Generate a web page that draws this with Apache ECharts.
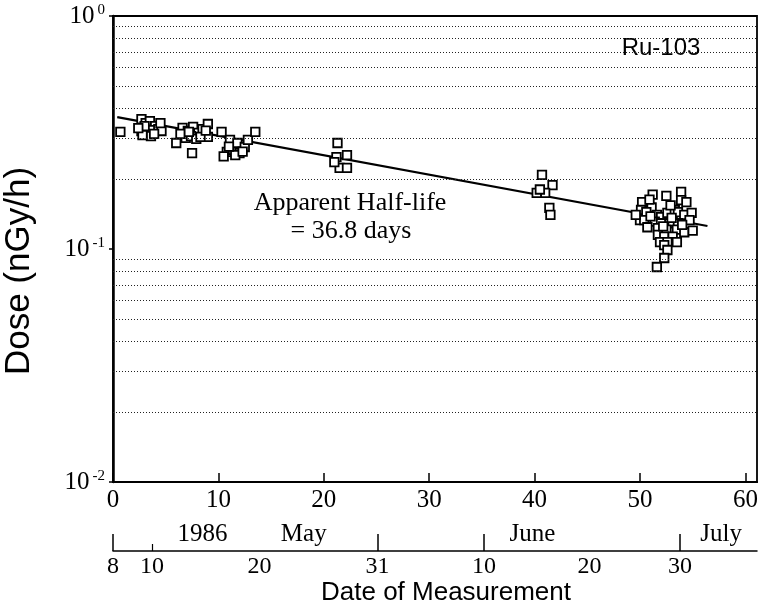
<!DOCTYPE html>
<html>
<head>
<meta charset="utf-8">
<script src="https://cdn.jsdelivr.net/npm/echarts@6/dist/echarts.min.js"></script>
<style>html,body{margin:0;padding:0;background:#fff}#c{width:762px;height:613px}</style>
</head>
<body>
<div id="c"></div>
<script>
// ---- data ----
const days = [
  0.7, 2.7, 3.1, 3.5, 4.0, 2.7, 3.2, 3.7, 4.3, 4.6, 3.0, 3.6, 4.5, 2.8, 3.9, 2.4,
  6.6, 7.1, 7.6, 8.1, 8.5, 9.0, 9.0, 6.9, 7.4, 7.9, 8.3, 6.0, 7.5, 6.4, 7.2, 8.8,
  10.3, 11.1, 10.8, 11.4, 11.8, 12.0, 12.5, 12.8, 13.5, 10.5, 11.6, 11.0, 12.3,
  21.3, 21.2, 22.2, 21.5, 22.2, 21.0,
  40.7, 41.7, 41.0, 40.2, 41.4, 41.5, 40.5,
  51.2, 52.5, 53.9, 50.2, 51.1, 53.9, 54.4, 50.1, 50.6, 51.6, 52.0, 52.6, 53.3, 53.6,
  54.2, 54.9, 54.7, 50.0, 50.4, 51.4, 52.0, 52.8, 53.1, 53.6, 50.7, 51.7, 52.5, 53.5,
  54.2, 51.7, 52.3, 53.1, 51.9, 52.6, 53.5, 52.3, 52.6, 52.3, 51.6, 49.6, 55.0,
  51.0, 52.2, 53.0, 54.0, 50.9, 52.9
];
const doses = [
  0.318, 0.361, 0.347, 0.354, 0.337, 0.321, 0.315, 0.324, 0.327, 0.321, 0.337, 0.305, 0.347, 0.308, 0.312, 0.330,
  0.331, 0.321, 0.334, 0.315, 0.327, 0.344, 0.303, 0.300, 0.305, 0.297, 0.303, 0.285, 0.258, 0.312, 0.318, 0.322,
  0.318, 0.294, 0.261, 0.266, 0.285, 0.258, 0.274, 0.294, 0.318, 0.250, 0.253, 0.275, 0.262,
  0.285, 0.248, 0.253, 0.223, 0.223, 0.236,
  0.208, 0.188, 0.174, 0.174, 0.150, 0.140, 0.180,
  0.171, 0.169, 0.176, 0.159, 0.151, 0.162, 0.159, 0.147, 0.144, 0.140, 0.137, 0.143, 0.147, 0.144,
  0.140, 0.143, 0.133, 0.133, 0.133, 0.131, 0.129, 0.129, 0.131, 0.129, 0.124, 0.123, 0.121, 0.121,
  0.118, 0.115, 0.113, 0.113, 0.107, 0.107, 0.107, 0.104, 0.099, 0.0915, 0.0837, 0.140, 0.120,
  0.138, 0.125, 0.136, 0.127, 0.163, 0.154
];
const fitDays = [0.4, 56.4];
const fitDoses = [0.368, 0.1255];
const gridDoses = [0.02, 0.03, 0.04, 0.05, 0.06, 0.07, 0.08, 0.09, 0.2, 0.3, 0.4, 0.5, 0.6, 0.7, 0.8, 0.9];
const xTicks = [0, 10, 20, 30, 40, 50, 60];
const dateTickDays = [0, 3.7, 13.9, 25.1, 35.2, 45.2, 53.8];
const dateTickLabels = ['8', '10', '20', '31', '10', '20', '30'];
const dateBigTickDays = [0, 25.1, 35.2, 53.8];
const dateSmallTickDays = [3.7];
const monthDays = [8.5, 18.1, 39.8, 57.7];
const monthLabels = ['1986', 'May', 'June', 'July'];

const serif = '"Liberation Serif", "DejaVu Serif", serif';
const sans = '"Liberation Sans", Arial, sans-serif';

const chart = echarts.init(document.getElementById('c'), null, {renderer: 'canvas'});
const XMAX = 61.1;
const option = {
  animation: false,
  backgroundColor: '#fff',
  grid: {left: 113, right: 5, top: 16, bottom: 131, show: true, borderColor: '#000', borderWidth: 1.8, containLabel: false},
  xAxis: [
    {
      type: 'value', min: 0, max: XMAX, position: 'bottom',
      axisLine: {show: true, onZero: false, lineStyle: {color: '#000', width: 2}},
      axisTick: {show: true, inside: true, length: 9, customValues: xTicks, lineStyle: {color: '#000', width: 1.5}},
      axisLabel: {show: true, customValues: xTicks, margin: 6, color: '#000', fontFamily: serif, fontSize: 25},
      splitLine: {show: false}
    },
    {
      type: 'value', min: 0, max: XMAX, position: 'bottom', offset: 69,
      axisLine: {show: true, onZero: false, lineStyle: {color: '#000', width: 1.5}},
      axisTick: {show: true, inside: true, length: 17, customValues: dateBigTickDays, lineStyle: {color: '#000', width: 1.5}},
      axisLabel: {show: true, customValues: dateTickDays, margin: 4, color: '#000', fontFamily: serif, fontSize: 24,
        formatter: function (v) { const i = dateTickDays.indexOf(v); return i >= 0 ? dateTickLabels[i] : ''; }},
      splitLine: {show: false}
    },
    {
      type: 'value', min: 0, max: XMAX, position: 'bottom', offset: 69,
      axisLine: {show: false},
      axisTick: {show: true, inside: true, length: 7, customValues: dateSmallTickDays, lineStyle: {color: '#000', width: 1.2}},
      axisLabel: {show: true, inside: true, customValues: monthDays, margin: 4, color: '#000', fontFamily: serif, fontSize: 25,
        formatter: function (v) { const i = monthDays.indexOf(v); return i >= 0 ? monthLabels[i] : ''; }},
      splitLine: {show: false}
    }
  ],
  yAxis: {
    type: 'log', logBase: 10, min: 0.01, max: 1,
    axisLine: {show: true, lineStyle: {color: '#000', width: 2.5}},
    axisTick: {show: true, length: 4, lineStyle: {color: '#000', width: 1.5}},
    axisLabel: {
      margin: 8, color: '#000',
      formatter: function (v) {
        const e = Math.round(Math.log10(v));
        return '{b|10}{s|' + (e < 0 ? '-' + (-e) : e) + '}';
      },
      rich: {
        b: {fontFamily: serif, fontSize: 25, lineHeight: 26, verticalAlign: 'bottom'},
        s: {fontFamily: serif, fontSize: 15, lineHeight: 26, verticalAlign: 'top', padding: [0, 0, 0, 3]}
      }
    },
    splitLine: {show: false}
  },
  series: [
    {
      type: 'line', data: [], z: 1, silent: true,
      markLine: {
        silent: true, symbol: 'none', animation: false,
        label: {show: false},
        lineStyle: {color: '#222', type: [1, 2], width: 1},
        data: gridDoses.map(v => ({yAxis: v}))
      }
    },
    {
      type: 'line', z: 2, symbol: 'none', silent: true,
      lineStyle: {color: '#000', width: 2.2},
      data: fitDays.map((d, i) => [d, fitDoses[i]])
    },
    {
      type: 'scatter', z: 3, symbol: 'rect', symbolSize: 8.5,
      itemStyle: {color: '#fff', borderColor: '#000', borderWidth: 1.8, opacity: 1},
      data: days.map((d, i) => [d, doses[i]])
    }
  ],
  graphic: [
    {type: 'text', x: 19, y: 271, rotation: Math.PI / 2,
      style: {text: 'Dose (nGy/h)', fill: '#000', font: '35px ' + sans, textAlign: 'center', textVerticalAlign: 'middle'}},
    {type: 'text', x: 446, y: 593,
      style: {text: 'Date of Measurement', fill: '#000', font: '26px ' + sans, textAlign: 'center', textVerticalAlign: 'middle'}},
    {type: 'text', x: 661, y: 48,
      style: {text: 'Ru-103', fill: '#000', font: '24px ' + sans, textAlign: 'center', textVerticalAlign: 'middle'}},
    {type: 'text', x: 350, y: 203,
      style: {text: 'Apparent Half-life', fill: '#000', font: '26px ' + serif, textAlign: 'center', textVerticalAlign: 'middle'}},
    {type: 'text', x: 351, y: 231,
      style: {text: '= 36.8 days', fill: '#000', font: '26px ' + serif, textAlign: 'center', textVerticalAlign: 'middle'}}
  ]
};
chart.setOption(option);
</script>
</body>
</html>
